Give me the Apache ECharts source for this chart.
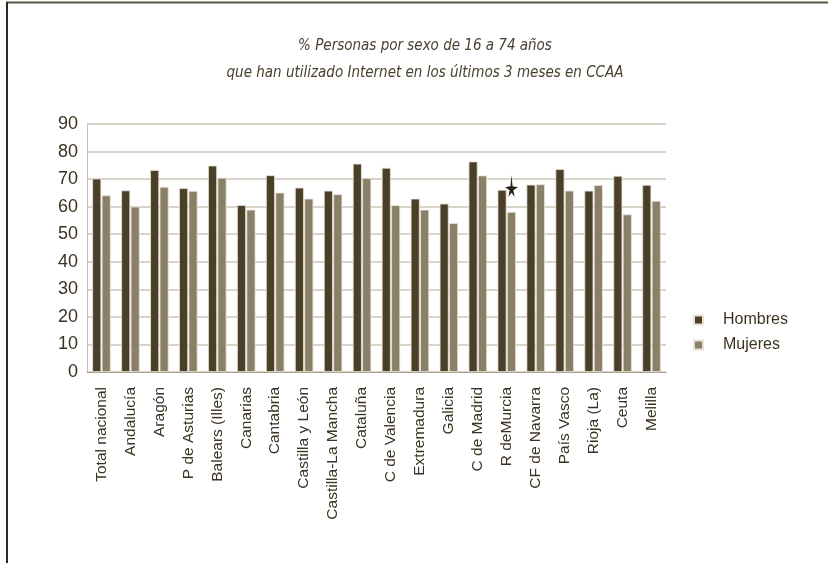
<!DOCTYPE html>
<html>
<head>
<meta charset="utf-8">
<script src="https://cdn.jsdelivr.net/npm/echarts@6/dist/echarts.min.js"></script>
<style>
  html, body { margin: 0; padding: 0; background: #fff; }
  #main { width: 828px; height: 563px; }
</style>
</head>
<body>
<div id="main"></div>
<script>
// datos
var comunidades = ['Total nacional', 'Andalucía', 'Aragón', 'P de Asturias', 'Balears (Illes)',
  'Canarias', 'Cantabria', 'Castilla y León', 'Castilla-La Mancha', 'Cataluña',
  'C de Valencia', 'Extremadura', 'Galicia', 'C de Madrid', 'R deMurcia',
  'CF de Navarra', 'País Vasco', 'Rioja (La)', 'Ceuta', 'Melilla'];
var hombres = [70.2, 65.9, 73.3, 66.7, 74.9, 60.6, 71.4, 66.9, 65.8, 75.6,
  74.1, 62.9, 61.1, 76.4, 66.1, 68.0, 73.6, 65.8, 71.2, 67.9];
var mujeres = [64.1, 60.0, 67.2, 65.7, 70.5, 58.9, 65.1, 62.9, 64.5, 70.4,
  60.5, 58.9, 54.0, 71.3, 58.1, 68.1, 65.8, 67.8, 57.2, 62.1];
var yTicks = [0, 10, 20, 30, 40, 50, 60, 70, 80, 90];
var marcada = 'R deMurcia'; // la comunidad con la estrella

var myChart = echarts.init(document.getElementById('main'));

var textColor = '#3b3222';
var idx = comunidades.indexOf(marcada);

var option = {
  backgroundColor: '#fff',
  animation: false,
  title: {
    text: '% Personas por sexo de 16 a 74 años\nque han utilizado Internet en los últimos 3 meses en CCAA',
    left: 420,
    textAlign: 'center',
    top: 28,
    textStyle: {
      fontFamily: '"DejaVu Sans Condensed", "Liberation Sans", sans-serif',
      fontStyle: 'italic',
      fontWeight: 'normal',
      fontSize: 15,
      lineHeight: 27,
      color: '#4a4030'
    }
  },
  legend: {
    orient: 'vertical',
    left: 688,
    top: 307,
    itemWidth: 9,
    itemHeight: 9,
    itemGap: 9,
    icon: 'rect',
    textStyle: { fontFamily: 'Liberation Sans', fontSize: 16, color: textColor, padding: [0, 0, 0, 15] },
    data: ['Hombres', 'Mujeres']
  },
  grid: { left: 87, right: 162, top: 124, bottom: 191 },
  xAxis: {
    type: 'category',
    data: comunidades,
    axisLine: { lineStyle: { color: '#a89f8c', width: 1 } },
    axisTick: { show: false },
    axisLabel: {
      rotate: 90,
      interval: 0,
      margin: 15,
      fontFamily: 'Liberation Sans',
      fontSize: 15.5,
      color: textColor
    }
  },
  yAxis: {
    type: 'value',
    min: yTicks[0],
    max: yTicks[yTicks.length - 1],
    interval: 10,
    axisLine: { show: true, lineStyle: { color: '#c9c2b3' } },
    axisTick: { show: false },
    splitLine: { lineStyle: { color: '#cdc6b6', width: 1.5 } },
    axisLabel: {
      margin: 9,
      fontFamily: 'Liberation Sans',
      fontSize: 18,
      color: textColor
    }
  },
  series: [
    {
      name: 'Hombres',
      type: 'bar',
      data: hombres,
      barWidth: 9,
      barGap: '5%',
      itemStyle: {
        color: '#4a3f29',
        borderColor: '#e8e2d6',
        borderWidth: 0.8
      }
    },
    {
      name: 'Mujeres',
      type: 'bar',
      data: mujeres,
      barWidth: 9,
      itemStyle: {
        color: '#8a7f67',
        borderColor: '#e8e2d6',
        borderWidth: 0.8
      },
      markPoint: {
        symbol: 'path://M50,0 L58,62 L100,68 L64,84 L74,120 L50,98 L26,120 L36,84 L0,68 L42,62 Z',
        symbolSize: [13, 22],
        symbolOffset: [0, -26],
        label: { show: false },
        itemStyle: { color: '#2a2214' },
        data: [{ coord: [idx, mujeres[idx]] }]
      }
    }
  ],
  graphic: [
    { type: 'line', shape: { x1: 6, y1: 2.5, x2: 828, y2: 2.5 }, style: { stroke: '#5a5442', lineWidth: 2 } },
    { type: 'line', shape: { x1: 7, y1: 2, x2: 7, y2: 563 }, style: { stroke: '#2e2818', lineWidth: 2 } }
  ]
};

myChart.setOption(option);
</script>
</body>
</html>
